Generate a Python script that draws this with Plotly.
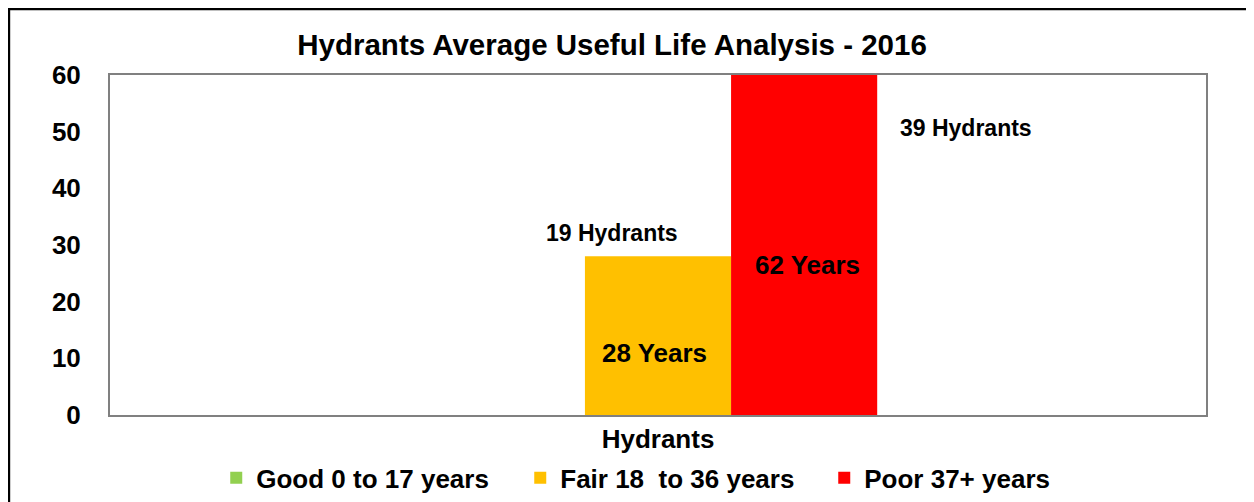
import plotly.graph_objects as go

categories = ["Hydrants"]
series_names = ["Good 0 to 17 years", "Fair 18  to 36 years", "Poor 37+ years"]
series_values = [[0], [28], [62]]
series_colors = ["#92D050", "#FFC000", "#FF0000"]
year_labels = ["28 Years", "62 Years"]
year_label_x = [-0.003, 0.136]
year_label_y = [10.9, 26.5]
count_labels = ["19 Hydrants", "39 Hydrants"]
count_label_x = [-0.042, 0.281]
count_label_y = [32.1, 50.6]
y_ticks = [0, 10, 20, 30, 40, 50, 60]

FONT = "Liberation Sans, Arial, sans-serif"

fig = go.Figure()
for name, vals, col in zip(series_names, series_values, series_colors):
    fig.add_trace(go.Bar(x=categories, y=vals, name=name, marker=dict(color=col, line=dict(width=0))))

for t, x, y in zip(year_labels, year_label_x, year_label_y):
    fig.add_annotation(x=x, y=y, xref="x", yref="y", text=t, showarrow=False,
                       font=dict(family=FONT, size=26, color="black", weight="bold"))
for t, x, y in zip(count_labels, count_label_x, count_label_y):
    fig.add_annotation(x=x, y=y, xref="x", yref="y", text=t, showarrow=False,
                       font=dict(family=FONT, size=23, color="black", weight="bold"))

# outer chart border
fig.add_shape(type="rect", xref="paper", yref="paper", x0=-0.0922, x1=1.08, y0=-0.35, y1=1.194,
              line=dict(color="black", width=2.5), fillcolor="rgba(0,0,0,0)", layer="below")

fig.update_layout(
    width=1246, height=494,
    margin=dict(l=102, r=48, t=67, b=87, autoexpand=False),
    paper_bgcolor="white", plot_bgcolor="white",
    barmode="group", bargap=0.6, bargroupgap=0,
    title=dict(text="Hydrants Average Useful Life Analysis - 2016", x=0.4848, xanchor="center",
               y=0.925, yanchor="middle",
               font=dict(family=FONT, size=29.5, color="black", weight="bold")),
    font=dict(family=FONT, color="black"),
    showlegend=True,
    legend=dict(orientation="h", x=0.513, xanchor="center", y=-0.185, yanchor="middle",
                font=dict(family=FONT, size=26, color="black", weight="bold"),
                itemwidth=30, traceorder="normal", entrywidth=259, entrywidthmode="pixels"),
    xaxis=dict(type="category", range=[-0.5, 0.5], showline=True, linecolor="#808080", linewidth=2,
               mirror=True, ticks="", tickfont=dict(family=FONT, size=26, color="black", weight="bold")),
    yaxis=dict(range=[0, 60], tickvals=y_ticks, showgrid=False, showline=True, linecolor="#808080",
               linewidth=2, mirror=True, ticks="", ticklabelstandoff=22,
               tickfont=dict(family=FONT, size=26, color="black", weight="bold"), zeroline=False),
)

fig.write_html("out.html")
